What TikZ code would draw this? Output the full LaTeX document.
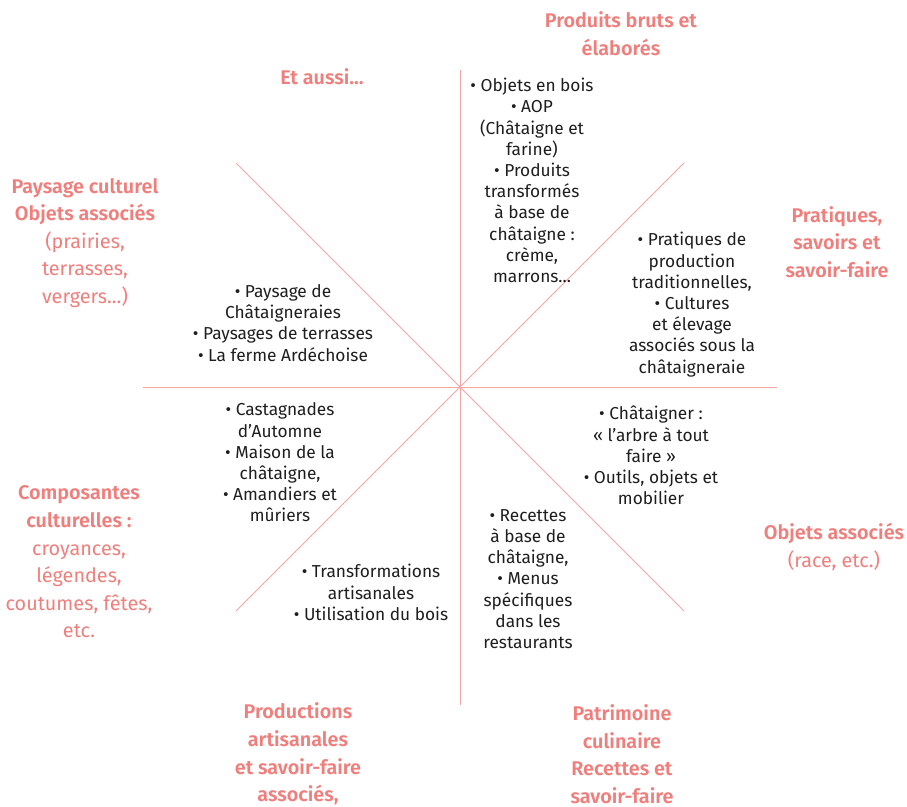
\documentclass[tikz,border=0pt]{standalone}
\usepackage{fontspec}
\setmainfont{Fira Sans}[BoldFont={Fira Sans SemiBold}]
\definecolor{salmon}{HTML}{EF7F7C}
\definecolor{rayline}{HTML}{F4A6A5}
\definecolor{bodytext}{HTML}{1E1E1E}
\begin{document}
\begin{tikzpicture}[x=1pt,y=-1pt,
  ray/.style={draw=rayline,line width=0.9pt},
  head/.style={text=salmon,align=center,inner sep=0pt,font=\fontsize{19.8}{27.6}\selectfont},
  body/.style={text=bodytext,align=center,inner sep=0pt,font=\fontsize{17.3}{21.2}\selectfont}]
\useasboundingbox (0,0) rectangle (907,806);
% rays
\coordinate (c) at (460,387);
\coordinate (rn) at (460,70);
\coordinate (rs) at (460,705);
\coordinate (rw) at (143,387);
\coordinate (re) at (777,387);
\coordinate (rne) at (684,163);
\coordinate (rnw) at (236,163);
\coordinate (rse) at (684,611);
\coordinate (rsw) at (236,611);
\foreach \e in {rn,rs,rw,re,rne,rnw,rse,rsw} \draw[ray] (c) -- (\e);
% headings
\node[head] (hprod) at (621,33.5) {\textbf{Produits bruts et}\\\textbf{élaborés}};
\node[head] (haussi) at (322,77) {\textbf{Et aussi...}};
\node[head] (hpays) at (85,243) {\textbf{Paysage culturel}\\\textbf{Objets associés}\\(prairies,\\terrasses,\\vergers...)};
\node[head] (hprat) at (837,242) {\textbf{Pratiques,}\\\textbf{savoirs et}\\\textbf{savoir-faire}};
\node[head] (hobj) at (834,547) {\textbf{Objets associés}\\(race, etc.)};
\node[head] (hcomp) at (79,562) {\textbf{Composantes}\\\textbf{culturelles :}\\croyances,\\légendes,\\coutumes, fêtes,\\etc.};
\node[head] (hartis) at (298,754) {\textbf{Productions}\\\textbf{artisanales}\\\textbf{et savoir-faire}\\\textbf{associés,}};
\node[head] (hpatri) at (622,754) {\textbf{Patrimoine}\\\textbf{culinaire}\\\textbf{Recettes et}\\\textbf{savoir-faire}};
% body texts
\node[body] (bprod) at (532,180.5) {• Objets en bois\\• AOP\\(Châtaigne et\\farine)\\• Produits\\transformés\\à base de\\châtaigne :\\crème,\\marrons...};
\node[body] (bprat) at (692,304.5) {• Pratiques de\\production\\traditionnelles,\\• Cultures\\et élevage\\associés sous la\\châtaigneraie};
\node[body] (bpays) at (283,323) {• Paysage de\\Châtaigneraies\\• Paysages de terrasses\\• La ferme Ardéchoise};
\node[body] (bcomp) at (280,462.5) {• Castagnades\\d’Automne\\• Maison de la\\châtaigne,\\• Amandiers et\\mûriers};
\node[body] (bobj) at (651,455.5) {• Châtaigner :\\« l’arbre à tout\\faire »\\• Outils, objets et\\mobilier};
\node[body] (bpatri) at (528,579) {• Recettes\\à base de\\châtaigne,\\• Menus\\spécifiques\\dans les\\restaurants};
\node[body] (bartis) at (371,592.5) {• Transformations\\artisanales\\• Utilisation du bois};
\end{tikzpicture}
\end{document}
